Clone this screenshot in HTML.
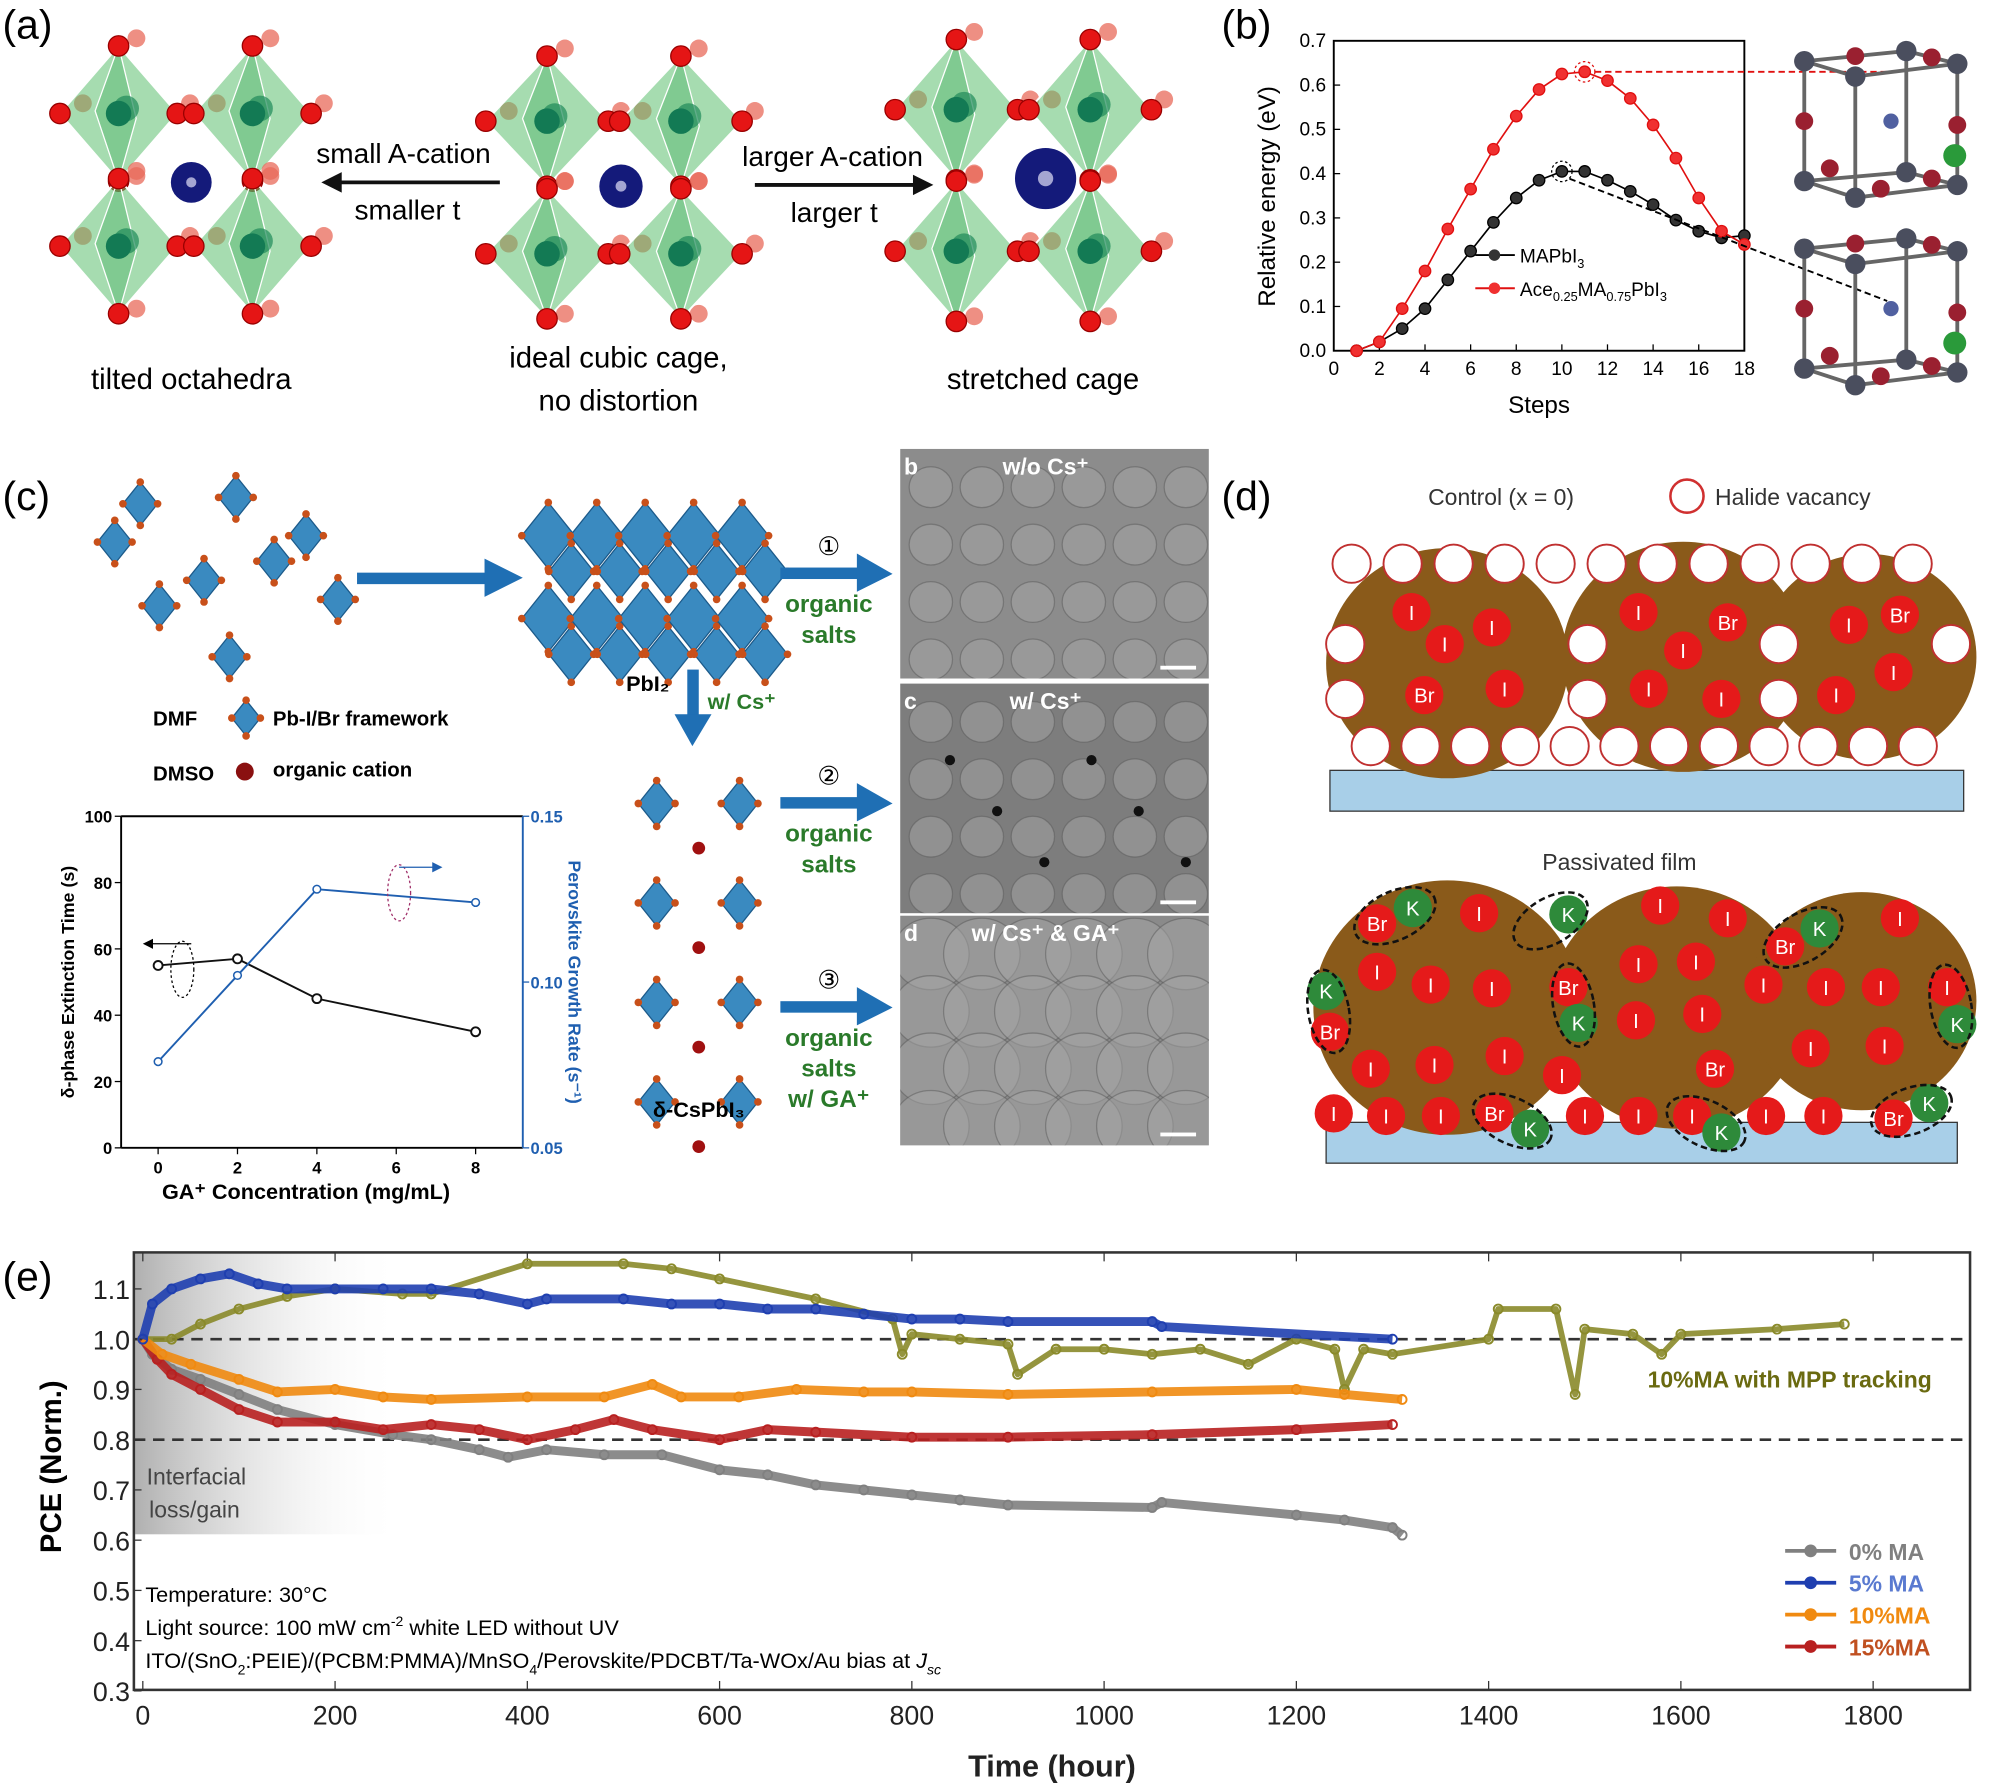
<!DOCTYPE html>
<html><head><meta charset="utf-8"><style>
html,body{margin:0;padding:0;background:#fff}
svg{display:block;font-family:"Liberation Sans",sans-serif}
</style></head><body>
<svg id="fig" width="1993" height="1783" viewBox="0 0 1563 1398" preserveAspectRatio="none" xmlns="http://www.w3.org/2000/svg">
<rect width="1563" height="1398" fill="#fff"/>
<!-- panel a -->
<g>
<text x="2" y="30" font-size="32">(a)</text>
<g id="octA"></g>
<text x="248" y="128" font-size="22">small A-cation</text>
<text x="278" y="172" font-size="22">smaller t</text>
<line x1="392" y1="143" x2="262" y2="143" stroke="#111" stroke-width="3"/><polygon points="252,143 268,135 268,151" fill="#111"/>
<text x="582" y="130" font-size="22">larger A-cation</text>
<text x="620" y="174" font-size="22">larger t</text>
<line x1="592" y1="145" x2="722" y2="145" stroke="#111" stroke-width="3"/><polygon points="732,145 716,137 716,153" fill="#111"/>
<text x="150" y="305" font-size="23" text-anchor="middle">tilted octahedra</text>
<text x="485" y="288" font-size="23" text-anchor="middle">ideal cubic cage,</text>
<text x="485" y="322" font-size="23" text-anchor="middle">no distortion</text>
<text x="818" y="305" font-size="23" text-anchor="middle">stretched cage</text>
</g>
<!-- panel b -->
<g>
<text x="958" y="30" font-size="32">(b)</text>
<g id="chartB"></g>
<g id="cubesB"></g>
</g>
<!-- panel c -->
<g>
<text x="2" y="400" font-size="32">(c)</text>
<g id="schemC"></g>
<g id="chartC"></g>
</g>
<!-- panel d -->
<g>
<text x="958" y="400" font-size="32">(d)</text>
<g id="schemD"></g>
</g>
<!-- panel e -->
<g>
<text x="2" y="1012" font-size="32">(e)</text>
<g id="chartE"></g>
</g>
</svg>
<script>
const NS="http://www.w3.org/2000/svg";
function mk(p,t,a,txt){const e=document.createElementNS(NS,t);for(const k in a)e.setAttribute(k,a[k]);if(txt!==undefined)e.textContent=txt;p.appendChild(e);return e;}

// ===== Panel b data =====
const bSteps=[1,2,3,4,5,6,7,8,9,10,11,12,13,14,15,16,17,18];
const bMAPbI3=[0,0.02,0.05,0.095,0.16,0.225,0.29,0.345,0.385,0.405,0.405,0.385,0.36,0.33,0.295,0.27,0.255,0.26];
const bAce=[0,0.02,0.095,0.18,0.275,0.365,0.455,0.53,0.59,0.625,0.63,0.61,0.57,0.51,0.435,0.345,0.27,0.24];
const bXTicks=[0,2,4,6,8,10,12,14,16,18];
const bYTicks=[0.0,0.1,0.2,0.3,0.4,0.5,0.6,0.7];

// ===== Panel c data =====
const cConc=[0,2,4,8];
const cExtTime=[55,57,45,35];
const cGrowth=[0.076,0.102,0.128,0.124];
const cXTicks=[0,2,4,6,8];
const cYTicks=[0,20,40,60,80,100];
const cY2Ticks=[0.05,0.10,0.15];

// ===== Panel e data =====
const eGray=[[0,1.0],[10,0.97],[30,0.94],[60,0.92],[100,0.89],[140,0.86],[200,0.83],[260,0.81],[300,0.80],[350,0.78],[380,0.765],[420,0.78],[480,0.77],[540,0.77],[600,0.74],[650,0.73],[700,0.71],[750,0.70],[800,0.69],[850,0.68],[900,0.67],[1050,0.665],[1060,0.675],[1200,0.65],[1250,0.64],[1300,0.625],[1310,0.61]];
const eBlue=[[0,1.0],[10,1.07],[30,1.1],[60,1.12],[90,1.13],[120,1.11],[150,1.1],[200,1.1],[250,1.1],[300,1.1],[350,1.09],[400,1.07],[420,1.08],[500,1.08],[550,1.07],[600,1.07],[650,1.06],[700,1.06],[750,1.05],[800,1.04],[850,1.04],[900,1.035],[1050,1.035],[1060,1.025],[1300,1.0]];
const eOrange=[[0,1.0],[20,0.97],[50,0.95],[100,0.92],[140,0.895],[200,0.9],[250,0.885],[300,0.88],[400,0.885],[480,0.885],[530,0.91],[560,0.885],[620,0.885],[680,0.9],[750,0.895],[800,0.895],[900,0.89],[1050,0.895],[1200,0.9],[1250,0.89],[1310,0.88]];
const eRed=[[0,1.0],[15,0.96],[30,0.93],[60,0.9],[100,0.86],[140,0.835],[200,0.835],[250,0.82],[300,0.83],[350,0.82],[400,0.8],[450,0.82],[490,0.84],[530,0.82],[600,0.8],[650,0.82],[700,0.815],[800,0.805],[900,0.805],[1050,0.81],[1200,0.82],[1300,0.83]];
const eOlive=[[0,1.0],[30,1.0],[60,1.03],[100,1.06],[150,1.085],[200,1.1],[270,1.09],[300,1.09],[400,1.15],[500,1.15],[550,1.14],[600,1.12],[700,1.08],[780,1.04],[790,0.97],[800,1.01],[850,1.0],[900,0.99],[910,0.93],[950,0.98],[1000,0.98],[1050,0.97],[1100,0.98],[1150,0.95],[1200,1.0],[1240,0.98],[1250,0.9],[1270,0.98],[1300,0.97],[1400,1.0],[1410,1.06],[1470,1.06],[1490,0.89],[1500,1.02],[1550,1.01],[1580,0.97],[1600,1.01],[1700,1.02],[1770,1.03]];
const eXTicks=[0,200,400,600,800,1000,1200,1400,1600,1800];
const eYTicks=[0.3,0.4,0.5,0.6,0.7,0.8,0.9,1.0,1.1];

// ---------- panel a drawing ----------
(function(){
 const g=document.getElementById('octA');
 const structs=[
  {cols:[93,198],rows:[89,193],rx:46,ry:53,a:[150,143,16]},
  {cols:[429,534],rows:[95,199],rx:48,ry:51,a:[487,146,17]},
  {cols:[750,855],rows:[86,197],rx:48,ry:55,a:[820,140,24]}];
 structs.forEach(s=>{
  s.rows.forEach(cy=>s.cols.forEach(cx=>{
   const rx=s.rx,ry=s.ry;
   // rear atoms
   [[14,-ry-6],[rx+10,-8],[14,ry-4],[-rx+18,-8]].forEach(p=>mk(g,'circle',{cx:cx+p[0],cy:cy+p[1],r:7,fill:'#e86a5a','fill-opacity':0.75}));
   const o=mk(g,'polygon',{points:`${cx},${cy-ry} ${cx+rx},${cy} ${cx},${cy+ry} ${cx-rx},${cy}`,fill:'#5cc070','fill-opacity':0.55,stroke:'#fff','stroke-width':1.5});
   
   mk(g,'polygon',{points:`${cx},${cy-ry} ${cx+rx*0.3},${cy+4} ${cx},${cy+ry} ${cx-rx*0.4},${cy-2}`,fill:'#3aa858','fill-opacity':0.35,stroke:'#fff','stroke-width':1});
   mk(g,'circle',{cx:cx+6,cy:cy-4,r:10,fill:'#1f8a5a','fill-opacity':0.7});
   mk(g,'circle',{cx:cx,cy:cy,r:10,fill:'#137a54'});
   [[0,-ry],[rx,0],[0,ry],[-rx,0]].forEach(p=>mk(g,'circle',{cx:cx+p[0],cy:cy+p[1],r:8,fill:'#e51515',stroke:'#900','stroke-width':1}));
  }));
  const a=mk(g,'circle',{cx:s.a[0],cy:s.a[1],r:s.a[2],fill:'#141a7a'});
  
  mk(g,'circle',{cx:s.a[0],cy:s.a[1],r:s.a[2]*0.25,fill:'#c8c8e8','fill-opacity':0.8});
 });
})();

// ---------- panel b chart ----------
(function(){
 const g=document.getElementById('chartB');
 const X=v=>1046+v*(1368-1046)/18, Y=v=>275-v*(275-32)/0.7;
 mk(g,'rect',{x:1046,y:32,width:322,height:243,fill:'none',stroke:'#000','stroke-width':1.5});
 bXTicks.forEach(t=>{mk(g,'line',{x1:X(t),y1:275,x2:X(t),y2:270,stroke:'#000'});const e=mk(g,'text',{x:X(t),y:294,'font-size':15,'text-anchor':'middle'},t);});
 bYTicks.forEach(t=>{mk(g,'line',{x1:1046,y1:Y(t),x2:1051,y2:Y(t),stroke:'#000'});const e=mk(g,'text',{x:1040,y:Y(t)+5,'font-size':15,'text-anchor':'end'},t.toFixed(1));});
 const yt=mk(g,'text',{x:0,y:0,'font-size':19,'text-anchor':'middle',transform:'translate(1000,154) rotate(-90)'},'Relative energy (eV)');
 const xt=mk(g,'text',{x:1207,y:324,'font-size':19,'text-anchor':'middle'},'Steps');
 [[bMAPbI3,'#000','#333'],[bAce,'#e01010','#f03030']].forEach(([d,c,f],k)=>{
  const pl=mk(g,'polyline',{points:d.map((v,i)=>X(bSteps[i])+','+Y(v)).join(' '),fill:'none',stroke:c,'stroke-width':1.3});
  
  d.forEach((v,i)=>{const p=mk(g,'circle',{cx:X(bSteps[i]),cy:Y(v),r:4.5,fill:f,stroke:c});});
 });
 mk(g,'circle',{cx:X(10),cy:Y(0.405),r:8,fill:'none',stroke:'#000','stroke-dasharray':'2,2'});
 mk(g,'circle',{cx:X(11),cy:Y(0.63),r:8,fill:'none',stroke:'#e01010','stroke-dasharray':'2,2'});
 mk(g,'line',{x1:X(11)+8,y1:Y(0.63),x2:1480,y2:Y(0.63),stroke:'#e01010','stroke-width':1.5,'stroke-dasharray':'5,3'});
 mk(g,'line',{x1:X(10)+6,y1:Y(0.4)+4,x2:1480,y2:236,stroke:'#000','stroke-width':1.5,'stroke-dasharray':'5,3'});
 mk(g,'line',{x1:1157,y1:200,x2:1188,y2:200,stroke:'#000','stroke-width':1.5});mk(g,'circle',{cx:1172,cy:200,r:4.5,fill:'#333'});
 const l1=mk(g,'text',{x:1192,y:206,'font-size':15},'MAPbI');mk(l1,'tspan',{'font-size':10,dy:4},'3');
 mk(g,'line',{x1:1157,y1:226,x2:1188,y2:226,stroke:'#e01010','stroke-width':1.5});mk(g,'circle',{cx:1172,cy:226,r:4.5,fill:'#f03030'});
 const l2=mk(g,'text',{x:1192,y:232,'font-size':15},'Ace');mk(l2,'tspan',{'font-size':10,dy:4},'0.25');mk(l2,'tspan',{dy:-4},'MA');mk(l2,'tspan',{'font-size':10,dy:4},'0.75');mk(l2,'tspan',{dy:-4},'PbI');mk(l2,'tspan',{'font-size':10,dy:4},'3');
 
 const cg=document.getElementById('cubesB');
 [[1415,40],[1415,187]].forEach(o=>{
  const x0=o[0],y0=o[1];const pts=[[0,8],[80,0],[120,10],[40,20],[0,102],[80,95],[120,105],[40,115]];
  const P=pts.map(p=>[x0+p[0],y0+p[1]]);
  [[0,1],[1,2],[2,3],[3,0],[4,5],[5,6],[6,7],[7,4],[0,4],[1,5],[2,6],[3,7]].forEach(e=>mk(cg,'line',{x1:P[e[0]][0],y1:P[e[0]][1],x2:P[e[1]][0],y2:P[e[1]][1],stroke:'#666','stroke-width':3}));
  P.forEach(p=>mk(cg,'circle',{cx:p[0],cy:p[1],r:8,fill:'#4a4e5e'}));
  [[40,4],[100,5],[0,55],[120,58],[20,92],[60,108],[100,100]].forEach(p=>mk(cg,'circle',{cx:x0+p[0],cy:y0+p[1],r:7,fill:'#9a2030'}));
  mk(cg,'circle',{cx:x0+68,cy:y0+55,r:6,fill:'#5060a0'});mk(cg,'circle',{cx:x0+118,cy:y0+82,r:9,fill:'#2a9a3a'});
 });
})();

// ---------- panel c schematic ----------
(function(){
 const g=document.getElementById('schemC');
 function oct(cx,cy,r){mk(g,'polygon',{points:`${cx},${cy-r} ${cx+r*0.8},${cy} ${cx},${cy+r} ${cx-r*0.8},${cy}`,fill:'#3a8ac0',stroke:'#1c5a8a'});[[0,-r],[r*0.8,0],[0,r],[-r*0.8,0]].forEach(p=>mk(g,'circle',{cx:cx+p[0],cy:cy+p[1],r:3,fill:'#c8501a'}));}
 [[110,395],[160,455],[185,390],[215,440],[265,470],[125,475],[90,425],[180,515],[240,420]].forEach(p=>oct(p[0],p[1],17));
 for(let r=0;r<2;r++)for(let i=0;i<5;i++){oct(430+i*38,420+r*65,26);oct(448+i*38,448+r*65,22);}
 for(let r=0;r<4;r++){oct(515,630+r*78,18);oct(580,630+r*78,18);mk(g,'circle',{cx:548,cy:665+r*78,r:5,fill:'#a01010'});}
 mk(g,'rect',{x:280,y:449,width:105,height:9,fill:'#1f6fb4'});mk(g,'polygon',{points:'380,438 410,453 380,468',fill:'#1f6fb4'});
 mk(g,'rect',{x:539,y:525,width:9,height:45,fill:'#1f6fb4'});mk(g,'polygon',{points:'529,560 558,560 543,585',fill:'#1f6fb4'});
 [[450,'①',492],[630,'②',672],[790,'③',832]].forEach((a,i)=>{
  mk(g,'rect',{x:612,y:a[0]-5,width:65,height:9,fill:'#1f6fb4'});mk(g,'polygon',{points:`672,${a[0]-16} 700,${a[0]} 672,${a[0]+14}`,fill:'#1f6fb4'});
  mk(g,'text',{x:650,y:a[0]-15,'font-size':20,'text-anchor':'middle'},a[1]);
  const t1=mk(g,'text',{x:650,y:a[2]-12,'font-size':19,'font-weight':'bold',fill:'#2a7a2a','text-anchor':'middle'},'organic');
  mk(g,'text',{x:650,y:a[2]+12,'font-size':19,'font-weight':'bold',fill:'#2a7a2a','text-anchor':'middle'},'salts');
 });
 mk(g,'text',{x:650,y:868,'font-size':19,'font-weight':'bold',fill:'#2a7a2a','text-anchor':'middle'},'w/ GA⁺');
 mk(g,'text',{x:555,y:556,'font-size':17,'font-weight':'bold',fill:'#2a7a2a'},'w/ Cs⁺');
 mk(g,'text',{x:508,y:542,'font-size':17,'font-weight':'bold','text-anchor':'middle'},'PbI₂');
 mk(g,'text',{x:548,y:876,'font-size':17,'font-weight':'bold','text-anchor':'middle'},'δ-CsPbI₃');
 mk(g,'text',{x:120,y:569,'font-size':16,'font-weight':'bold'},'DMF');oct(193,563,14);
 mk(g,'text',{x:214,y:569,'font-size':16,'font-weight':'bold'},'Pb-I/Br framework');
 mk(g,'text',{x:120,y:612,'font-size':16,'font-weight':'bold'},'DMSO');mk(g,'circle',{cx:192,cy:605,r:7,fill:'#8a1010'});
 mk(g,'text',{x:214,y:609,'font-size':16,'font-weight':'bold'},'organic cation');
 [[352,'b','w/o Cs⁺','#8c8c8c'],[536,'c','w/ Cs⁺','#7d7d7d'],[718,'d','w/ Cs⁺ & GA⁺','#8a8a8a']].forEach(s=>{
  const r=mk(g,'rect',{x:706,y:s[0],width:242,height:180,fill:s[3]});
  const cl=mk(g,'clipPath',{id:'clip'+s[1]});mk(cl,'rect',{x:706,y:s[0],width:242,height:180});
  const gg=mk(g,'g',{'clip-path':`url(#clip${s[1]})`});
  for(let i=0;i<6;i++)for(let j=0;j<4;j++)mk(gg,'ellipse',{cx:730+i*40,cy:s[0]+30+j*45,rx:s[1]=='d'?30:17,ry:s[1]=='d'?28:16,fill:'#a6a6a6','fill-opacity':0.5,stroke:'#5a5a5a','stroke-opacity':0.5});
  if(s[1]=='c')for(let i=0;i<6;i++)mk(g,'circle',{cx:745+i*37,cy:s[0]+60+(i%3)*40,r:4,fill:'#111'});
  mk(g,'text',{x:709,y:s[0]+20,'font-size':18,'font-weight':'bold',fill:'#fff'},s[1]);
  mk(g,'text',{x:820,y:s[0]+20,'font-size':18,'font-weight':'bold',fill:'#fff','text-anchor':'middle'},s[2]);
  mk(g,'rect',{x:910,y:s[0]+170,width:28,height:3,fill:'#fff'});
 });
})();

// ---------- panel c chart ----------
(function(){
 const g=document.getElementById('chartC');
 const X=v=>124+v*(373-124)/8, Y=v=>900-v*2.6, Y2=v=>900-(v-0.05)*2600;
 mk(g,'line',{x1:95,y1:640,x2:95,y2:900,stroke:'#000','stroke-width':1.5});
 mk(g,'line',{x1:95,y1:900,x2:410,y2:900,stroke:'#000','stroke-width':1.5});
 mk(g,'line',{x1:95,y1:640,x2:410,y2:640,stroke:'#000','stroke-width':1.5});
 mk(g,'line',{x1:410,y1:640,x2:410,y2:900,stroke:'#1f5fb0','stroke-width':1.5});
 cXTicks.forEach(t=>{mk(g,'line',{x1:X(t),y1:900,x2:X(t),y2:905,stroke:'#000'});const e=mk(g,'text',{x:X(t),y:920,'font-size':13,'font-weight':'bold','text-anchor':'middle'},t);});
 cYTicks.forEach(t=>{mk(g,'line',{x1:90,y1:Y(t),x2:95,y2:Y(t),stroke:'#000'});const e=mk(g,'text',{x:88,y:Y(t)+5,'font-size':13,'font-weight':'bold','text-anchor':'end'},t);});
 cY2Ticks.forEach(t=>{mk(g,'line',{x1:410,y1:Y2(t),x2:415,y2:Y2(t),stroke:'#1f5fb0'});const e=mk(g,'text',{x:416,y:Y2(t)+5,'font-size':13,'font-weight':'bold',fill:'#1f5fb0'},t.toFixed(2));});
 const p1=mk(g,'polyline',{points:cConc.map((c,i)=>X(c)+','+Y(cExtTime[i])).join(' '),fill:'none',stroke:'#111','stroke-width':1.5});
 cConc.forEach((c,i)=>mk(g,'circle',{cx:X(c),cy:Y(cExtTime[i]),r:3.5,fill:'#fff',stroke:'#111','stroke-width':1.5}));
 const p2=mk(g,'polyline',{points:cConc.map((c,i)=>X(c)+','+Y2(cGrowth[i])).join(' '),fill:'none',stroke:'#1f5fb0','stroke-width':1.5});
 cConc.forEach((c,i)=>mk(g,'circle',{cx:X(c),cy:Y2(cGrowth[i]),r:3,fill:'#fff',stroke:'#1f5fb0','stroke-width':1.2}));
 mk(g,'ellipse',{cx:143,cy:760,rx:9,ry:22,fill:'none',stroke:'#000','stroke-dasharray':'2,2'});mk(g,'line',{x1:150,y1:740,x2:117,y2:740,stroke:'#000'});mk(g,'polygon',{points:'112,740 120,736 120,744'});
 mk(g,'ellipse',{cx:313,cy:700,rx:9,ry:22,fill:'none',stroke:'#a0306a','stroke-dasharray':'2,2'});mk(g,'line',{x1:313,y1:680,x2:342,y2:680,stroke:'#1f5fb0'});mk(g,'polygon',{points:'347,680 339,676 339,684',fill:'#1f5fb0'});
 const xt=mk(g,'text',{x:240,y:940,'font-size':17,'font-weight':'bold','text-anchor':'middle'},'GA⁺ Concentration (mg/mL)');
 const yt=mk(g,'text',{x:0,y:0,'font-size':14,'font-weight':'bold','text-anchor':'middle',transform:'translate(58,770) rotate(-90)'},'δ-phase Extinction Time (s)');
 const y2=mk(g,'text',{x:0,y:0,'font-size':14,'font-weight':'bold',fill:'#1f5fb0','text-anchor':'middle',transform:'translate(446,770) rotate(90)'},'Perovskite Growth Rate (s⁻¹)');
})();

// ---------- panel d ----------
(function(){
 const g=document.getElementById('schemD');
 mk(g,'text',{x:1120,y:396,'font-size':18,fill:'#333'},'Control (x = 0)');
 mk(g,'circle',{cx:1323,cy:389,r:13,fill:'#fff',stroke:'#d03030','stroke-width':2});
 mk(g,'text',{x:1345,y:396,'font-size':18,fill:'#333'},'Halide vacancy');
 mk(g,'rect',{x:1043,y:604,width:497,height:32,fill:'#a8cfe8',stroke:'#333'});
 [[1135,520,95],[1320,515,95],[1465,515,85]].forEach(c=>mk(g,'ellipse',{cx:c[0],cy:c[1],rx:c[2],ry:c[2]*0.95,fill:'#8a5a1a'}));
 for(let i=0;i<12;i++){mk(g,'circle',{cx:1060+i*40,cy:442,r:15,fill:'#fff',stroke:'#c03030','stroke-width':1.5});mk(g,'circle',{cx:1075+i*39,cy:585,r:15,fill:'#fff',stroke:'#c03030','stroke-width':1.5});}
 [[1055,505],[1055,548],[1245,505],[1245,548],[1395,505],[1395,548],[1530,505]].forEach(p=>mk(g,'circle',{cx:p[0],cy:p[1],r:15,fill:'#fff',stroke:'#c03030','stroke-width':1.5}));
 [[1107,480,'I'],[1133,505,'I'],[1170,492,'I'],[1117,545,'Br'],[1180,540,'I'],[1285,480,'I'],[1320,510,'I'],[1355,488,'Br'],[1350,548,'I'],[1293,540,'I'],[1450,490,'I'],[1490,482,'Br'],[1485,527,'I'],[1440,545,'I']].forEach(p=>{mk(g,'circle',{cx:p[0],cy:p[1],r:15,fill:'#e51a1a'});mk(g,'text',{x:p[0],y:p[1]+6,'font-size':16,fill:'#fff','text-anchor':'middle'},p[2]);});
 mk(g,'text',{x:1270,y:682,'font-size':18,fill:'#333','text-anchor':'middle'},'Passivated film');
 mk(g,'rect',{x:1040,y:880,width:495,height:32,fill:'#a8cfe8',stroke:'#333'});
 [[1135,790,105],[1315,790,100],[1460,785,90]].forEach(c=>mk(g,'ellipse',{cx:c[0],cy:c[1],rx:c[2],ry:c[2]*0.95,fill:'#8a5a1a'}));
 const ions=[[1080,724,'Br'],[1108,712,'K'],[1160,716,'I'],[1230,717,'K'],[1302,710,'I'],[1355,720,'I'],[1400,742,'Br'],[1427,728,'K'],[1490,720,'I'],[1040,777,'K'],[1043,809,'Br'],[1080,762,'I'],[1122,772,'I'],[1170,775,'I'],[1230,774,'Br'],[1238,802,'K'],[1285,756,'I'],[1330,754,'I'],[1383,772,'I'],[1432,774,'I'],[1475,774,'I'],[1527,774,'I'],[1535,803,'K'],[1075,838,'I'],[1125,835,'I'],[1180,828,'I'],[1283,800,'I'],[1335,795,'I'],[1420,822,'I'],[1478,820,'I'],[1345,838,'Br'],[1225,843,'I'],[1046,873,'I'],[1087,875,'I'],[1130,875,'I'],[1172,873,'Br'],[1200,885,'K'],[1243,875,'I'],[1285,875,'I'],[1327,875,'I'],[1350,888,'K'],[1385,875,'I'],[1430,875,'I'],[1485,877,'Br'],[1513,865,'K']];
 ions.forEach(p=>{mk(g,'circle',{cx:p[0],cy:p[1],r:15,fill:p[2]=='K'?'#2e8a3a':'#e51a1a'});mk(g,'text',{x:p[0],y:p[1]+6,'font-size':16,fill:'#fff','text-anchor':'middle'},p[2]);});
 [[1094,718,34,19,-25],[1216,722,32,18,-30],[1414,735,34,19,-30],[1042,793,16,33,-10],[1234,788,16,33,-10],[1530,789,16,33,-10],[1186,879,33,18,25],[1338,881,33,18,25],[1499,871,33,18,-20]].forEach(e=>{
  const el=mk(g,'ellipse',{cx:e[0],cy:e[1],rx:e[2],ry:e[3],transform:`rotate(${e[4]} ${e[0]} ${e[1]})`,fill:'none',stroke:'#111','stroke-width':2,'stroke-dasharray':'5,3'});
  
 });
})();

// ---------- panel e chart ----------
(function(){
 const g=document.getElementById('chartE');
 const X=v=>112+v*(1469-112)/1800, Y=v=>1050-(v-1.0)*394;
 const L=105,R=1545,T=982,B=1325;
 const gr=mk(g,'defs',{});const lg=mk(gr,'linearGradient',{id:'shade',x1:0,x2:1,y1:0,y2:0});
 mk(lg,'stop',{offset:0,'stop-color':'#b0b0b0'});mk(lg,'stop',{offset:1,'stop-color':'#fff','stop-opacity':0});
 mk(g,'rect',{x:106,y:983,width:210,height:220,fill:'url(#shade)'});
 mk(g,'rect',{x:L,y:T,width:R-L,height:B-T,fill:'none',stroke:'#333','stroke-width':2});
 [1.0,0.8].forEach(v=>{const l=mk(g,'line',{x1:L,y1:Y(v),x2:R,y2:Y(v),stroke:'#333','stroke-width':2,'stroke-dasharray':'9,6'});});
 eXTicks.forEach(t=>{mk(g,'line',{x1:X(t),y1:B,x2:X(t),y2:B-7,stroke:'#333'});mk(g,'line',{x1:X(t),y1:T,x2:X(t),y2:T+7,stroke:'#333'});const e=mk(g,'text',{x:X(t),y:1352,'font-size':21,'text-anchor':'middle',fill:'#222'},t);});
 eYTicks.forEach(t=>{mk(g,'line',{x1:L,y1:Y(t),x2:L+6,y2:Y(t),stroke:'#333'});const e=mk(g,'text',{x:L-3,y:Y(t)+8,'font-size':21,'text-anchor':'end',fill:'#222'},t.toFixed(1));});
 const yt=mk(g,'text',{x:0,y:0,'font-size':23,'font-weight':'bold','text-anchor':'middle',transform:'translate(48,1150) rotate(-90)'},'PCE (Norm.)');
 const xt=mk(g,'text',{x:825,y:1393,'font-size':24,'font-weight':'bold','text-anchor':'middle',fill:'#222'},'Time (hour)');
 const series=[[eOlive,'#8a8a2a','olive-series'],[eGray,'#808080','gray-series'],[eRed,'#b82020','red-series'],[eOrange,'#f08a10','orange-series'],[eBlue,'#1f3fb0','blue-series']];
 series.forEach(s=>{
  const pl=mk(g,'polyline',{points:s[0].map(p=>X(p[0])+','+Y(p[1])).join(' '),fill:'none',stroke:s[1],'stroke-width':s[2]=='olive-series'?4.5:7,'stroke-linejoin':'round','stroke-opacity':0.9});
  
  s[0].forEach(p=>mk(g,'circle',{cx:X(p[0]),cy:Y(p[1]),r:3.5,fill:'none',stroke:s[1],'stroke-width':1.5}));
 });
 const m=mk(g,'text',{x:1515,y:1088,'font-size':18,'font-weight':'bold',fill:'#6a6a10','text-anchor':'end'},'10%MA with MPP tracking');
 mk(g,'text',{x:115,y:1164,'font-size':18,fill:'#444'},'Interfacial');mk(g,'text',{x:117,y:1190,'font-size':18,fill:'#444'},'loss/gain');
 mk(g,'text',{x:114,y:1256,'font-size':17},'Temperature: 30°C');
 const ls=mk(g,'text',{x:114,y:1282,'font-size':17},'Light source: 100 mW cm');mk(ls,'tspan',{'font-size':11,dy:-7},'-2');mk(ls,'tspan',{dy:7},' white LED without UV');
 const st=mk(g,'text',{x:114,y:1308,'font-size':17},'ITO/(SnO');mk(st,'tspan',{'font-size':11,dy:5},'2');mk(st,'tspan',{dy:-5},':PEIE)/(PCBM:PMMA)/MnSO');mk(st,'tspan',{'font-size':11,dy:5},'4');mk(st,'tspan',{dy:-5},'/Perovskite/PDCBT/Ta-WOx/Au bias at ');mk(st,'tspan',{'font-style':'italic'},'J');mk(st,'tspan',{'font-size':11,dy:5,'font-style':'italic'},'sc');
 [['0% MA','#808080','#808080'],['5% MA','#1f3fb0','#5a7ad0'],['10%MA','#f08a10','#f08a10'],['15%MA','#b82020','#c05020']].forEach((l,i)=>{
  const y=1216+i*25;
  mk(g,'line',{x1:1400,y1:y,x2:1440,y2:y,stroke:l[1],'stroke-width':3});mk(g,'circle',{cx:1420,cy:y,r:5,fill:l[1]});
  const e=mk(g,'text',{x:1450,y:y+7,'font-size':18,'font-weight':'bold',fill:l[2]},l[0]);
 });
})();
</script>
</body></html>
